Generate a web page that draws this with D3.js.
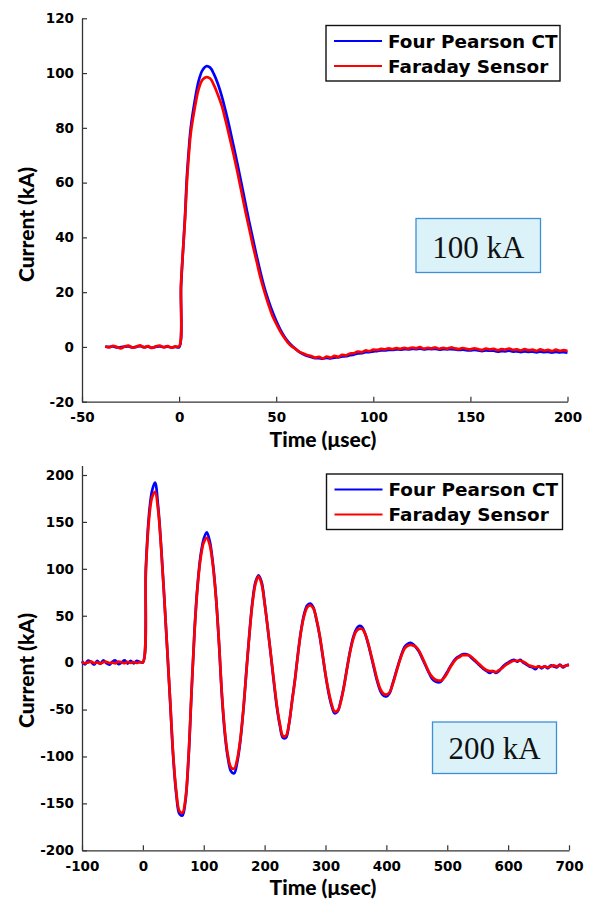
<!DOCTYPE html>
<html>
<head>
<meta charset="utf-8">
<script src="https://cdn.jsdelivr.net/npm/d3@7"></script>
<style>
  html, body { margin: 0; padding: 0; background: #fff; }
  svg { display: block; }
  .tick text { font-family: "DejaVu Sans", sans-serif; font-weight: bold; font-size: 13.5px; fill: #000; }
  .axis-title { font-family: Lato, "DejaVu Sans", sans-serif; font-weight: 900; font-size: 21px; fill: #000; }
  .legend-text { font-family: "DejaVu Sans", sans-serif; font-weight: bold; font-size: 18.4px; fill: #000; }
  .note-text { font-family: "Liberation Serif", "DejaVu Serif", serif; font-size: 31px; fill: #111; }
</style>
</head>
<body>
<svg id="chart" width="591" height="899"></svg>
<script>
// ---- 100 kA shot: time (µs) and measured current (kA) ----
const topTime = [
  -38,-36,-34,-32,-30,-28,-26,-24,-22,-20,-18,-16,-14,-12,-10,-8,-6,-4,-2,
  0,1,2,3,4,5,6,
  8,10,12,14,16,18,20,22,24,26,28,30,32,34,36,38,40,42,44,46,48,50,
  52,54,56,58,60,62,64,66,68,70,72,74,76,78,80,82,84,86,88,90,92,94,96,98,100,
  102,104,106,108,110,112,114,116,118,120,122,124,126,128,130,132,134,136,138,140,
  142,144,146,148,150,152,154,156,158,160,162,164,166,168,170,172,174,176,178,180,
  182,184,186,188,190,192,194,196,198,200
];
const topPearson = [
  0.1,0.0,0.2,-0.2,-0.1,0.1,0.2,-0.2,0.0,0.3,-0.1,0.1,-0.3,0.0,0.2,-0.1,0.1,-0.2,0.0,
  -0.1,22,35,47,62,72,80,
  89.5,97,101,102.5,102,99.5,96,91.5,86,80,73.5,67,60,53,46,39.5,33,27,21.5,17,13,9.5,
  6.5,4,2,0.5,-0.7,-1.9,-2.7,-3.3,-3.7,-4.1,-4.1,-4.3,-4.0,-4.2,-3.9,-3.8,-3.5,-3.4,-3.0,-2.8,-2.4,-2.3,-1.9,-1.9,-1.6,
  -1.5,-1.3,-1.3,-1.1,-1.1,-0.9,-1.0,-0.8,-0.9,-0.7,-0.8,-0.6,-0.9,-0.7,-0.8,-0.7,-1.0,-0.8,-0.9,-0.8,
  -0.9,-1.1,-1.0,-1.2,-1.3,-1.1,-1.3,-1.5,-1.3,-1.4,-1.4,-1.7,-1.5,-1.6,-1.4,-1.7,-1.6,-1.9,-1.6,-1.8,
  -1.7,-2.0,-1.7,-1.9,-1.8,-2.1,-1.8,-2.0,-1.9,-2.1
];
const topFaraday = [
  0.3,-0.2,0.4,0.0,-0.5,0.2,0.5,-0.3,0.1,0.6,-0.2,0.3,-0.4,0.2,0.5,-0.1,0.3,-0.3,0.2,
  0.2,23,35,46,60,70,78,
  87,94,97.5,98.5,98,95.5,92,88,82.5,76.5,70.5,64,57,50,43.5,37,31,25,20,15.5,11.5,8.5,
  5.8,3.5,1.6,0.2,-0.8,-1.8,-2.4,-3.0,-3.3,-3.9,-3.6,-4.2,-3.5,-3.9,-3.3,-3.6,-2.9,-3.1,-2.4,-2.3,-1.7,-1.9,-1.3,-1.5,-1.0,
  -1.1,-0.7,-0.9,-0.5,-0.8,-0.4,-0.7,-0.3,-0.6,-0.2,-0.5,-0.1,-0.6,-0.3,-0.5,-0.2,-0.7,-0.3,-0.6,-0.2,
  -0.5,-0.8,-0.4,-0.7,-0.9,-0.5,-0.8,-1.1,-0.6,-0.9,-0.7,-1.2,-0.8,-1.0,-0.6,-1.1,-0.9,-1.3,-0.8,-1.2,
  -1.0,-1.4,-0.9,-1.3,-1.1,-1.5,-1.0,-1.4,-1.2,-1.5
];
const topXTicks = [-50, 0, 50, 100, 150, 200];
const topYTicks = [-20, 0, 20, 40, 60, 80, 100, 120];

// ---- 200 kA shot: time (µs) and measured current (kA) ----
const bottomTime = [
  -100,-95,-90,-85,-80,-75,-70,-65,-60,-55,-50,-45,-40,-35,-30,-25,-20,-15,-10,-5,
  0,5,10,15,20,25,30,35,40,45,50,55,60,65,70,75,80,85,90,95,
  100,105,110,115,120,125,130,135,140,145,150,155,160,165,170,175,180,185,190,195,
  200,205,210,215,220,225,230,235,240,245,250,255,260,265,270,275,280,285,290,295,
  300,305,310,315,320,325,330,335,340,345,350,355,360,365,370,375,380,385,390,395,
  400,405,410,415,420,425,430,435,440,445,450,455,460,465,470,475,480,485,490,495,
  500,505,510,515,520,525,530,535,540,545,550,555,560,565,570,575,580,585,590,595,
  600,605,610,615,620,625,630,635,640,645,650,655,660,665,670,675,680,685,690,695,
  700
];
const bottomPearson = [
  1.5,-1.8,2.2,0.5,-2.0,1.8,-1.2,2.5,-0.5,-2.2,1.0,2.3,-1.5,0.2,2.4,-1.0,1.8,-0.8,2.0,0.6,
  0.3,102,157,183,192,167,124,71,14,-44,-102,-141,-161,-163,-147,-102,-31,36,84,115,
  132,139,129,106,71,21,-37,-78,-103,-116,-118,-106,-84,-51,-9,31,65,86,93,86,
  64,37,9,-20,-47,-67,-80,-80,-66,-41,-17,11,35,52,61,63,59,46,30,9,
  -13,-32,-46,-54,-52,-41,-26,-7,11,26,35,39,38,31,20,7,-7,-20,-30,-35,
  -36,-33,-23,-12,-1,9,17,20,21,19,15,10,3,-4,-11,-17,-20,-21,-20,-15,
  -10,-4,1,5,7,9,9,8,5,2,-1,-4,-7,-9,-11,-9,-11,-9,-5,-2,
  0,2,3,1,3,0,-2,-4,-5,-7,-4,-6,-4,-6,-3,-4,-5,-2,-5,-3,
  -2
];
const bottomFaraday = [
  0.5,-0.8,0.3,1.0,-0.5,0.2,-1.0,0.6,0.9,-0.4,0.1,-0.7,1.2,0.4,-0.6,0.8,-0.2,0.5,-0.3,0.7,
  0.5,100,152,176,182,163,122,70,15,-42,-100,-138,-158,-160,-145,-100,-30,35,82,112,
  128,133,125,104,70,22,-35,-75,-100,-112,-113,-103,-82,-50,-10,30,63,84,92,84,
  63,38,10,-18,-45,-65,-78,-78,-65,-42,-18,10,34,50,59,61,58,47,31,10,
  -12,-30,-44,-52,-51,-42,-27,-8,10,24,33,36,36,31,21,8,-5,-18,-28,-33,
  -34,-32,-24,-13,-2,8,15,18,19,18,16,11,4,-3,-10,-15,-18,-19,-19,-16,
  -11,-5,0,4,6,8,8,8,6,3,0,-3,-6,-8,-9,-9,-10,-8,-6,-3,
  -1,1,2,2,2,1,-1,-3,-4,-5,-4,-5,-4,-5,-4,-3,-4,-3,-4,-3,
  -3
];
const bottomXTicks = [-100, 0, 100, 200, 300, 400, 500, 600, 700];
const bottomYTicks = [-200, -150, -100, -50, 0, 50, 100, 150, 200];

const seriesNames = ["Four Pearson CT", "Faraday Sensor"];
const seriesColors = ["#0000ff", "#ff0000"];

const svg = d3.select("#chart");
const plainNumber = d => String(d);

function drawPanel(opt) {
  const g = svg.append("g");
  const x = d3.scaleLinear().domain(opt.xDomain).range([opt.left, opt.right]);
  const y = d3.scaleLinear().domain(opt.yDomain).range([opt.bottom, opt.top]);

  // x axis: ticks point into the plot
  const xAxis = d3.axisBottom(x).tickValues(opt.xTicks).tickFormat(plainNumber)
    .tickSizeInner(-5).tickSizeOuter(0).tickPadding(11);
  const gx = g.append("g").attr("transform", `translate(0,${opt.bottom})`).call(xAxis);
  gx.select(".domain").attr("stroke", "#333").attr("stroke-width", 1.3);
  gx.selectAll(".tick line").attr("stroke", "#333").attr("stroke-width", 1.2);
  gx.selectAll(".tick text").attr("dy", "0.71em");

  // y axis
  const yAxis = d3.axisLeft(y).tickValues(opt.yTicks).tickFormat(plainNumber)
    .tickSizeInner(-5).tickSizeOuter(0).tickPadding(8);
  const gy = g.append("g").attr("transform", `translate(${opt.left},0)`).call(yAxis);
  gy.select(".domain").attr("stroke", "#333").attr("stroke-width", 1.3);
  gy.selectAll(".tick line").attr("stroke", "#333").attr("stroke-width", 1.2);

  // measured traces (Faraday drawn on top)
  const line = d3.line()
    .x((d, i) => x(opt.time[i]))
    .y(d => y(d))
    .curve(d3.curveCatmullRom.alpha(0.5));
  opt.series.forEach((vals, k) => {
    g.append("path")
      .datum(vals)
      .attr("fill", "none")
      .attr("stroke", seriesColors[k])
      .attr("stroke-width", 2.7)
      .attr("stroke-linejoin", "round")
      .attr("d", line);
  });

  // axis titles
  g.append("text").attr("class", "axis-title")
    .attr("x", opt.xTitleX).attr("y", opt.xTitleY)
    .attr("text-anchor", "middle")
    .text("Time (μsec)");
  g.append("text").attr("class", "axis-title")
    .attr("transform", `translate(33.5,${opt.yTitleStart}) rotate(-90)`)
    .attr("text-anchor", "start")
    .text("Current (kA)");

  // legend
  const lg = g.append("g");
  lg.append("rect")
    .attr("x", opt.legend.x).attr("y", opt.legend.y)
    .attr("width", opt.legend.w).attr("height", opt.legend.h)
    .attr("fill", "#fff").attr("stroke", "#111").attr("stroke-width", 1.4);
  seriesNames.forEach((name, k) => {
    const ly = opt.legend.y + 15.5 + k * 25;
    lg.append("line")
      .attr("x1", opt.legend.x + 8).attr("x2", opt.legend.x + 56)
      .attr("y1", ly).attr("y2", ly)
      .attr("stroke", seriesColors[k]).attr("stroke-width", 2.2);
    lg.append("text").attr("class", "legend-text")
      .attr("x", opt.legend.x + 62).attr("y", ly + 6.5)
      .text(name);
  });

  // shot-level annotation
  const nb = opt.note;
  g.append("rect")
    .attr("x", nb.x).attr("y", nb.y).attr("width", nb.w).attr("height", nb.h)
    .attr("fill", "#dbf2f8").attr("stroke", "#3d8fd9").attr("stroke-width", 1.3);
  g.append("text").attr("class", "note-text")
    .attr("x", nb.x + nb.w / 2).attr("y", nb.baseline)
    .attr("text-anchor", "middle")
    .text(nb.label);
}

drawPanel({
  time: topTime,
  series: [topPearson, topFaraday],
  xDomain: [-50, 200], yDomain: [-20, 120],
  left: 82, right: 567.5, top: 18.3, bottom: 401.7,
  xTicks: topXTicks, yTicks: topYTicks,
  xTitleX: 323, xTitleY: 446.5, yTitleStart: 282,
  legend: { x: 326, y: 25.5, w: 234, h: 55.5 },
  note: { x: 416, y: 218.5, w: 124.5, h: 54, baseline: 257.5, label: "100 kA" }
});

drawPanel({
  time: bottomTime,
  series: [bottomPearson, bottomFaraday],
  xDomain: [-100, 700], yDomain: [-200, 210],
  left: 82, right: 569, top: 475 - 10 * (375.3 / 400), bottom: 850.3,
  xTicks: bottomXTicks, yTicks: bottomYTicks,
  xTitleX: 323, xTitleY: 895, yTitleStart: 728,
  legend: { x: 326.5, y: 474, w: 236, h: 55.5 },
  note: { x: 432.5, y: 722, w: 124, h: 51.5, baseline: 758.5, label: "200 kA" }
});
</script>
</body>
</html>
